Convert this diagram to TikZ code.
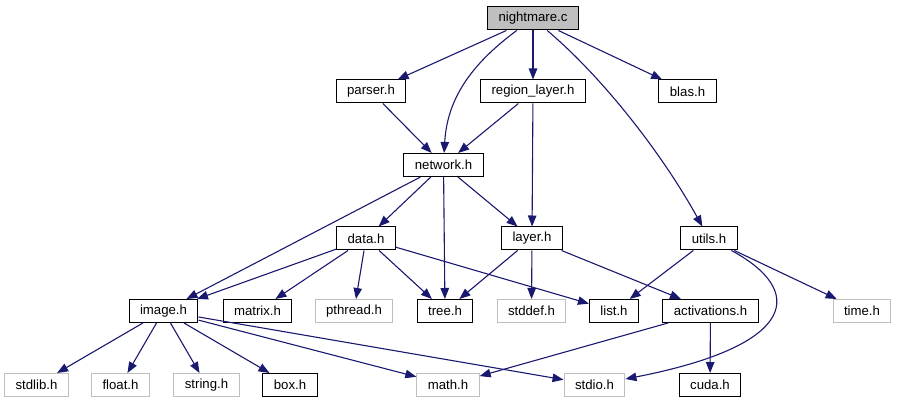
\documentclass[tikz,border=0pt]{standalone}
\usepackage{fontspec}
\setmainfont{Liberation Sans}
\usepackage{tikz}
\usetikzlibrary{arrows.meta}

\definecolor{edgeblue}{HTML}{191970}
\definecolor{sysgray}{HTML}{BFBFBF}

\tikzset{
	hdr/.style={draw=black, line width=1pt, inner xsep=11pt, inner ysep=0pt, minimum height=23pt, font=\fontsize{13.2}{15}\selectfont},
	sys/.style={hdr, draw=sysgray},
	cur/.style={hdr, fill=sysgray},
	dep/.style={color=edgeblue, line width=1.1pt, -{Triangle[length=11pt,width=8.5pt]}}
}

\begin{document}
\begin{tikzpicture}[x=1pt, y=-1pt]
	\useasboundingbox (0,0) rectangle (897,403);

	\node[cur] (nightmare) at (533,18.5) {nightmare.c};
	\node[hdr] (parser) at (371,91.5) {parser.h};
	\node[hdr] (regionlayer) at (533,91.5) {region\_layer.h};
	\node[hdr] (blas) at (687.5,91.5) {blas.h};
	\node[hdr] (network) at (443.5,165) {network.h};
	\node[hdr] (data) at (366,238.5) {data.h};
	\node[hdr] (layer) at (532,238.5) {layer.h};
	\node[hdr] (utils) at (709,238.5) {utils.h};
	\node[hdr] (image) at (163.5,311) {image.h};
	\node[hdr] (matrix) at (257.5,311) {matrix.h};
	\node[sys] (pthread) at (354,311) {pthread.h};
	\node[hdr] (tree) at (445,311) {tree.h};
	\node[sys] (stddef) at (531.5,311) {stddef.h};
	\node[hdr] (list) at (614,311) {list.h};
	\node[hdr] (activations) at (710.5,311) {activations.h};
	\node[sys] (time) at (862,311) {time.h};
	\node[sys] (stdlib) at (36.5,385) {stdlib.h};
	\node[sys] (float) at (120.5,385) {float.h};
	\node[sys] (string) at (206.5,385) {string.h};
	\node[hdr] (box) at (290,385) {box.h};
	\node[sys] (math) at (448,385) {math.h};
	\node[sys] (stdio) at (594.5,385) {stdio.h};
	\node[hdr] (cuda) at (710,385) {cuda.h};

	\path [dep]
	(nightmare) edge (parser)
	(nightmare) edge (regionlayer)
	(nightmare) edge (blas)
	(parser) edge (network)
	(regionlayer) edge (network)
	(regionlayer) edge (layer)
	(network) edge (image)
	(network) edge (data)
	(network) edge (tree)
	(network) edge (layer)
	(data) edge (image)
	(data) edge (matrix)
	(data) edge (pthread)
	(data) edge (tree)
	(data) edge (list)
	(layer) edge (tree)
	(layer) edge (stddef)
	(layer) edge (activations)
	(utils) edge (list)
	(utils) edge (time)
	(image) edge (stdlib)
	(image) edge (float)
	(image) edge (string)
	(image) edge (box)
	(image) edge (math)
	(image) edge (stdio)
	(activations) edge (math)
	(activations) edge (cuda);

	\draw [dep] (nightmare) .. controls (470,65) and (447,100) .. (network);
	\draw [dep] (nightmare) .. controls (600,75) and (660,150) .. (utils);
	\draw [dep] (utils) .. controls (805,290) and (800,345) .. (stdio);
\end{tikzpicture}
\end{document}
